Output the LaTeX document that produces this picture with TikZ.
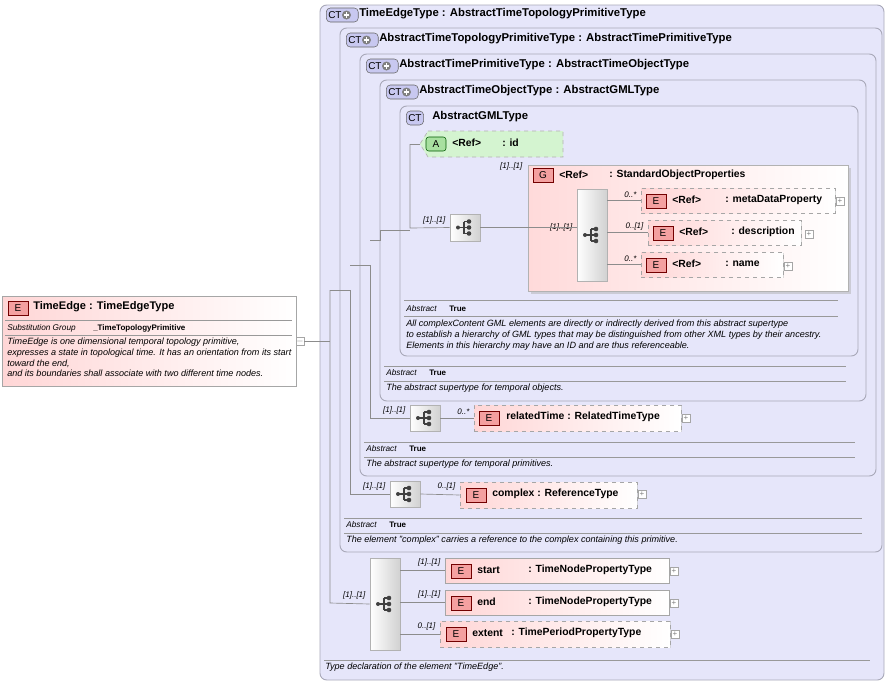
\documentclass[tikz,border=0pt]{standalone}
\usepackage{fontspec}
\setmainfont{Liberation Sans}
\usetikzlibrary{fit,shadows}
\definecolor{ctb}{HTML}{A8A8B8}
\definecolor{ctfill}{HTML}{E6E6FA}
\definecolor{elpink}{HTML}{FFD6D6}
\definecolor{eicfill}{HTML}{F4A0A0}
\definecolor{gfill}{HTML}{FFDADA}
\definecolor{afill}{HTML}{D4F4D0}
\definecolor{aic}{HTML}{A8E0A0}
\definecolor{ctic}{HTML}{C8C8F0}
\definecolor{lin}{HTML}{8C8C8C}
\tikzset{
 ctbox/.style={draw=ctb, fill=ctfill, rounded corners=5pt, line width=0.7pt, inner sep=0},
 elbox/.style={draw=black!35, left color=elpink, right color=white, inner sep=0, line width=0.5pt, drop shadow={shadow xshift=1pt, shadow yshift=-1pt, fill=black!25, opacity=0.6}},
 elopt/.style={elbox, dashed},
 eicon/.style={draw=red!45!black, fill=eicfill, minimum width=15pt, minimum height=10.5pt, inner sep=0, font=\fontsize{7.5}{8}\selectfont},
 aicon/.style={eicon, draw=green!35!black, fill=aic, rounded corners=2pt},
 cticon/.style={draw=black!60, fill=ctic, rounded corners=3pt, minimum height=10.5pt, inner sep=1.5pt, font=\fontsize{7.5}{8}\selectfont},
 seqbox/.style={draw=black!30, left color=white, right color=black!18, inner sep=0, line width=0.5pt},
 conn/.style={draw=lin, line width=0.5pt},
 sep/.style={draw=black!40, line width=0.5pt},
 card/.style={font=\fontsize{6}{7}\selectfont\itshape, anchor=south east, inner sep=1pt},
 ttl/.style={font=\fontsize{8.5}{10}\selectfont\bfseries, anchor=west, inner sep=0},
 etxt/.style={font=\fontsize{7.8}{9}\selectfont\bfseries, anchor=west, inner sep=0},
 doc/.style={font=\fontsize{6.8}{8}\selectfont\itshape, anchor=north west, inner sep=0, align=left},
 key/.style={font=\fontsize{6.2}{7}\selectfont\itshape, anchor=west, inner sep=0},
 val/.style={font=\fontsize{6}{7}\selectfont\bfseries, anchor=west, inner sep=0},
 plusbox/.style={draw=black!35, fill=white, minimum size=6pt, inner sep=0, font=\fontsize{6}{6}\selectfont, text=black!50},
 pics/seqglyph/.style={code={
   \draw[black!75, line width=0.8pt] (-7,0)--(-1,0) (-1,-6)--(-1,6) (-1,-6)--(4,-6) (-1,6)--(4,6) (-1,0)--(4,0);
   \fill[black!75] (-7,0) circle(2) (4,-6) circle(2.3) (4,0) circle(2.3) (4,6) circle(2.3);}},
 pics/ctplus/.style={code={
   \fill[black!50] (0,0) circle(4.5);
   \draw[white, line width=1pt] (-2.6,0)--(2.6,0) (0,-2.6)--(0,2.6);}}
}
\begin{document}
\begin{tikzpicture}[x=0.75pt,y=-0.75pt]
\useasboundingbox (0,0) rectangle (894,683);
% nested CT boxes
\draw[ctbox] (320,5) rectangle (884,680);
\draw[ctbox] (340,28) rectangle (882,552);
\draw[ctbox] (360,54) rectangle (876,476);
\draw[ctbox] (380,80) rectangle (866,401);
\draw[ctbox] (400,106) rectangle (858,356);
\node[fit={(320,5)(884,680)}, inner sep=0] (tet) {};
% titles
\node[cticon, anchor=west] (ic1) at (326,15) {CT\hspace*{11pt}}; \pic at (346.5,15) {ctplus};
\node[ttl] (t1) at (359,14) {TimeEdgeType : AbstractTimeTopologyPrimitiveType};
\node[cticon, anchor=west] (ic2) at (346,40) {CT\hspace*{11pt}}; \pic at (366.5,40) {ctplus};
\node[ttl] (t2) at (379,39) {AbstractTimeTopologyPrimitiveType : AbstractTimePrimitiveType};
\node[cticon, anchor=west] (ic3) at (366,66) {CT\hspace*{11pt}}; \pic at (386.5,66) {ctplus};
\node[ttl] (t3) at (399,65) {AbstractTimePrimitiveType : AbstractTimeObjectType};
\node[cticon, anchor=west] (ic4) at (386,92) {CT\hspace*{11pt}}; \pic at (406.5,92) {ctplus};
\node[ttl] (t4) at (419,91) {AbstractTimeObjectType : AbstractGMLType};
\node[cticon, anchor=west] (ic5) at (406,118) {CT};
\node[ttl] (t5) at (432,117) {AbstractGMLType};
% attribute id
\node[fit={(420,131)(563,157)}, inner sep=0] (aid) {};
\draw[draw=black!30, dashed, fill=afill, line width=0.5pt] (428,131)--(563,131)--(563,157)--(428,157)--(420,144)--cycle;
\node[aicon] (aidic) at (436,144) {A};
\node[etxt] at (452,143) {<Ref>};
\node[etxt] at (502,143) {: id};
% group
\node[fit={(528,165)(848,291)}, inner sep=0, draw=black!30, left color=gfill, right color=white, drop shadow={shadow xshift=2pt, shadow yshift=-2pt, fill=black!30}] (grp) {};
\node[card, anchor=south east] at (524,172) {[1]..[1]};
\node[eicon] (gic) at (543,175) {G};
\node[etxt] at (559,175) {<Ref>};
\node[etxt] at (609,175) {: StandardObjectProperties};
% GML sequence
\node[fit={(450,214)(480,241)}, seqbox] (s1) {}; \pic at (s1.center) {seqglyph};
\node[fit={(577,189)(607,281)}, seqbox] (s2) {}; \pic at (s2.center) {seqglyph};
\node[card] at (447,226) {[1]..[1]};
\node[card] at (574,233) {[1]..[1]};
% elements in group
\node[fit={(641,188)(835,213)}, elopt] (md) {};
\node[eicon] at (656,201) {E}; \node[etxt] at (672,200) {<Ref>}; \node[etxt] at (725,200) {: metaDataProperty};
\node[plusbox] (mdp) at (840,201) {+};
\node[card] at (638,199) {0..*};
\node[fit={(648,220)(801,245)}, elopt] (de) {};
\node[eicon] at (663,233) {E}; \node[etxt] at (679,232) {<Ref>}; \node[etxt] at (731,232) {: description};
\node[plusbox] at (809,234) {+};
\node[card] at (645,232) {0..[1]};
\node[fit={(641,252)(783,277)}, elopt] (nm) {};
\node[eicon] at (656,265) {E}; \node[etxt] at (672,264) {<Ref>}; \node[etxt] at (725,264) {: name};
\node[plusbox] at (788,266) {+};
\node[card] at (638,263) {0..*};
% GML annotations
\draw[sep] (404,300)--(838,300) (404,316)--(838,316);
\node[key] at (406,309) {Abstract}; \node[val] at (449,309) {True};
\node[doc] (d1) at (406,320) {All complexContent GML elements are directly or indirectly derived from this abstract supertype\\to establish a hierarchy of GML types that may be distinguished from other XML types by their ancestry.\\Elements in this hierarchy may have an ID and are thus referenceable.};
% TimeObject annotations
\draw[sep] (384,366)--(846,366) (384,381)--(846,381);
\node[key] at (386,373) {Abstract}; \node[val] at (429,373) {True};
\node[doc] at (386,384) {The abstract supertype for temporal objects.};
% relatedTime
\node[fit={(410,405)(440,431)}, seqbox] (s3) {}; \pic at (s3.center) {seqglyph};
\node[card] at (407,416) {[1]..[1]};
\node[fit={(474,405)(681,431)}, elopt] (rt) {};
\node[eicon] at (489,418) {E}; \node[etxt] at (506,417) {relatedTime : RelatedTimeType};
\node[plusbox] at (686,418) {+};
\node[card] at (471,416) {0..*};
% Primitive annotations
\draw[sep] (364,442)--(855,442) (364,457)--(855,457);
\node[key] at (366,449) {Abstract}; \node[val] at (409,449) {True};
\node[doc] at (366,460) {The abstract supertype for temporal primitives.};
% complex
\node[fit={(390,481)(420,507)}, seqbox] (s4) {}; \pic at (s4.center) {seqglyph};
\node[card] at (387,492) {[1]..[1]};
\node[fit={(460,482)(637,508)}, elopt] (cx) {};
\node[eicon] at (476,495) {E}; \node[etxt] at (492,494) {complex : ReferenceType};
\node[plusbox] at (642,494) {+};
\node[card] at (457,492) {0..[1]};
% Topology annotations
\draw[sep] (344,518)--(862,518) (344,533)--(862,533);
\node[key] at (346,525) {Abstract}; \node[val] at (389,525) {True};
\node[doc] at (346,536) {The element "complex" carries a reference to the complex containing this primitive.};
% TimeEdge sequence
\node[fit={(370,558)(400,650)}, seqbox] (s5) {}; \pic at (s5.center) {seqglyph};
\node[card] at (367,601) {[1]..[1]};
\node[fit={(445,558)(669,583)}, elbox] (st) {};
\node[eicon] at (461,571) {E}; \node[etxt] at (477,570) {start}; \node[etxt] at (528,570) {: TimeNodePropertyType};
\node[plusbox] at (674,571) {+};
\node[card] at (442,568) {[1]..[1]};
\node[fit={(445,590)(669,615)}, elbox] (en) {};
\node[eicon] at (461,603) {E}; \node[etxt] at (477,602) {end}; \node[etxt] at (528,602) {: TimeNodePropertyType};
\node[plusbox] at (674,603) {+};
\node[card] at (442,600) {[1]..[1]};
\node[fit={(440,621)(670,647)}, elopt] (ex) {};
\node[eicon] at (456,634) {E}; \node[etxt] at (472,633) {extent}; \node[etxt] at (511,633) {: TimePeriodPropertyType};
\node[plusbox] at (675,634) {+};
\node[card] at (437,632) {0..[1]};
% outer annotation
\draw[sep] (324,660)--(870,660);
\node[doc] at (325,663) {Type declaration of the element "TimeEdge".};
% TimeEdge element
\node[fit={(2,296)(296,386)}, elbox] (te) {};
\node[eicon] at (18,308) {E};
\node[etxt, font=\fontsize{8.3}{9}\selectfont\bfseries] at (33,307) {TimeEdge : TimeEdgeType};
\draw[sep] (5,320)--(292,320) (5,335)--(292,335);
\node[key] at (7,328) {Substitution Group}; \node[val] at (93,328) {\_TimeTopologyPrimitive};
\node[doc] at (7,338) {TimeEdge is one dimensional temporal topology primitive,\\expresses a state in topological time. It has an orientation from its start\\toward the end,\\and its boundaries shall associate with two different time nodes.};
\node[plusbox] (tem) at (300,341) {$-$};
% connectors
\coordinate (j0) at (330,341);
\draw[conn] (tem.east) -- (j0);
\draw[conn] (330,290) -- (330,603) -- (s5.west);
\draw[conn] (330,290) -- (350,290) -- (350,494) -- (s4.west);
\draw[conn] (350,265) -- (370,265) -- (370,418) -- (s3.west);
\draw[conn] (370,240) -- (380,240) -- (380,230) -- (410,230);
\draw[conn] (410,144) -- (410,228) -- (s1.west);
\draw[conn] (410,144) -- (aid.west);
\draw[conn] (s1.east) -- (s1.east -| s2.west);
\draw[conn] (s2.east |- md.west) -- (md.west);
\draw[conn] (s2.east |- de.west) -- (de.west);
\draw[conn] (s2.east |- nm.west) -- (nm.west);
\draw[conn] (s3.east) -- (rt.west);
\draw[conn] (s4.east) -- (cx.west);
\draw[conn] (s5.east |- st.west) -- (st.west);
\draw[conn] (s5.east |- en.west) -- (en.west);
\draw[conn] (s5.east |- ex.west) -- (ex.west);
\end{tikzpicture}
\end{document}
